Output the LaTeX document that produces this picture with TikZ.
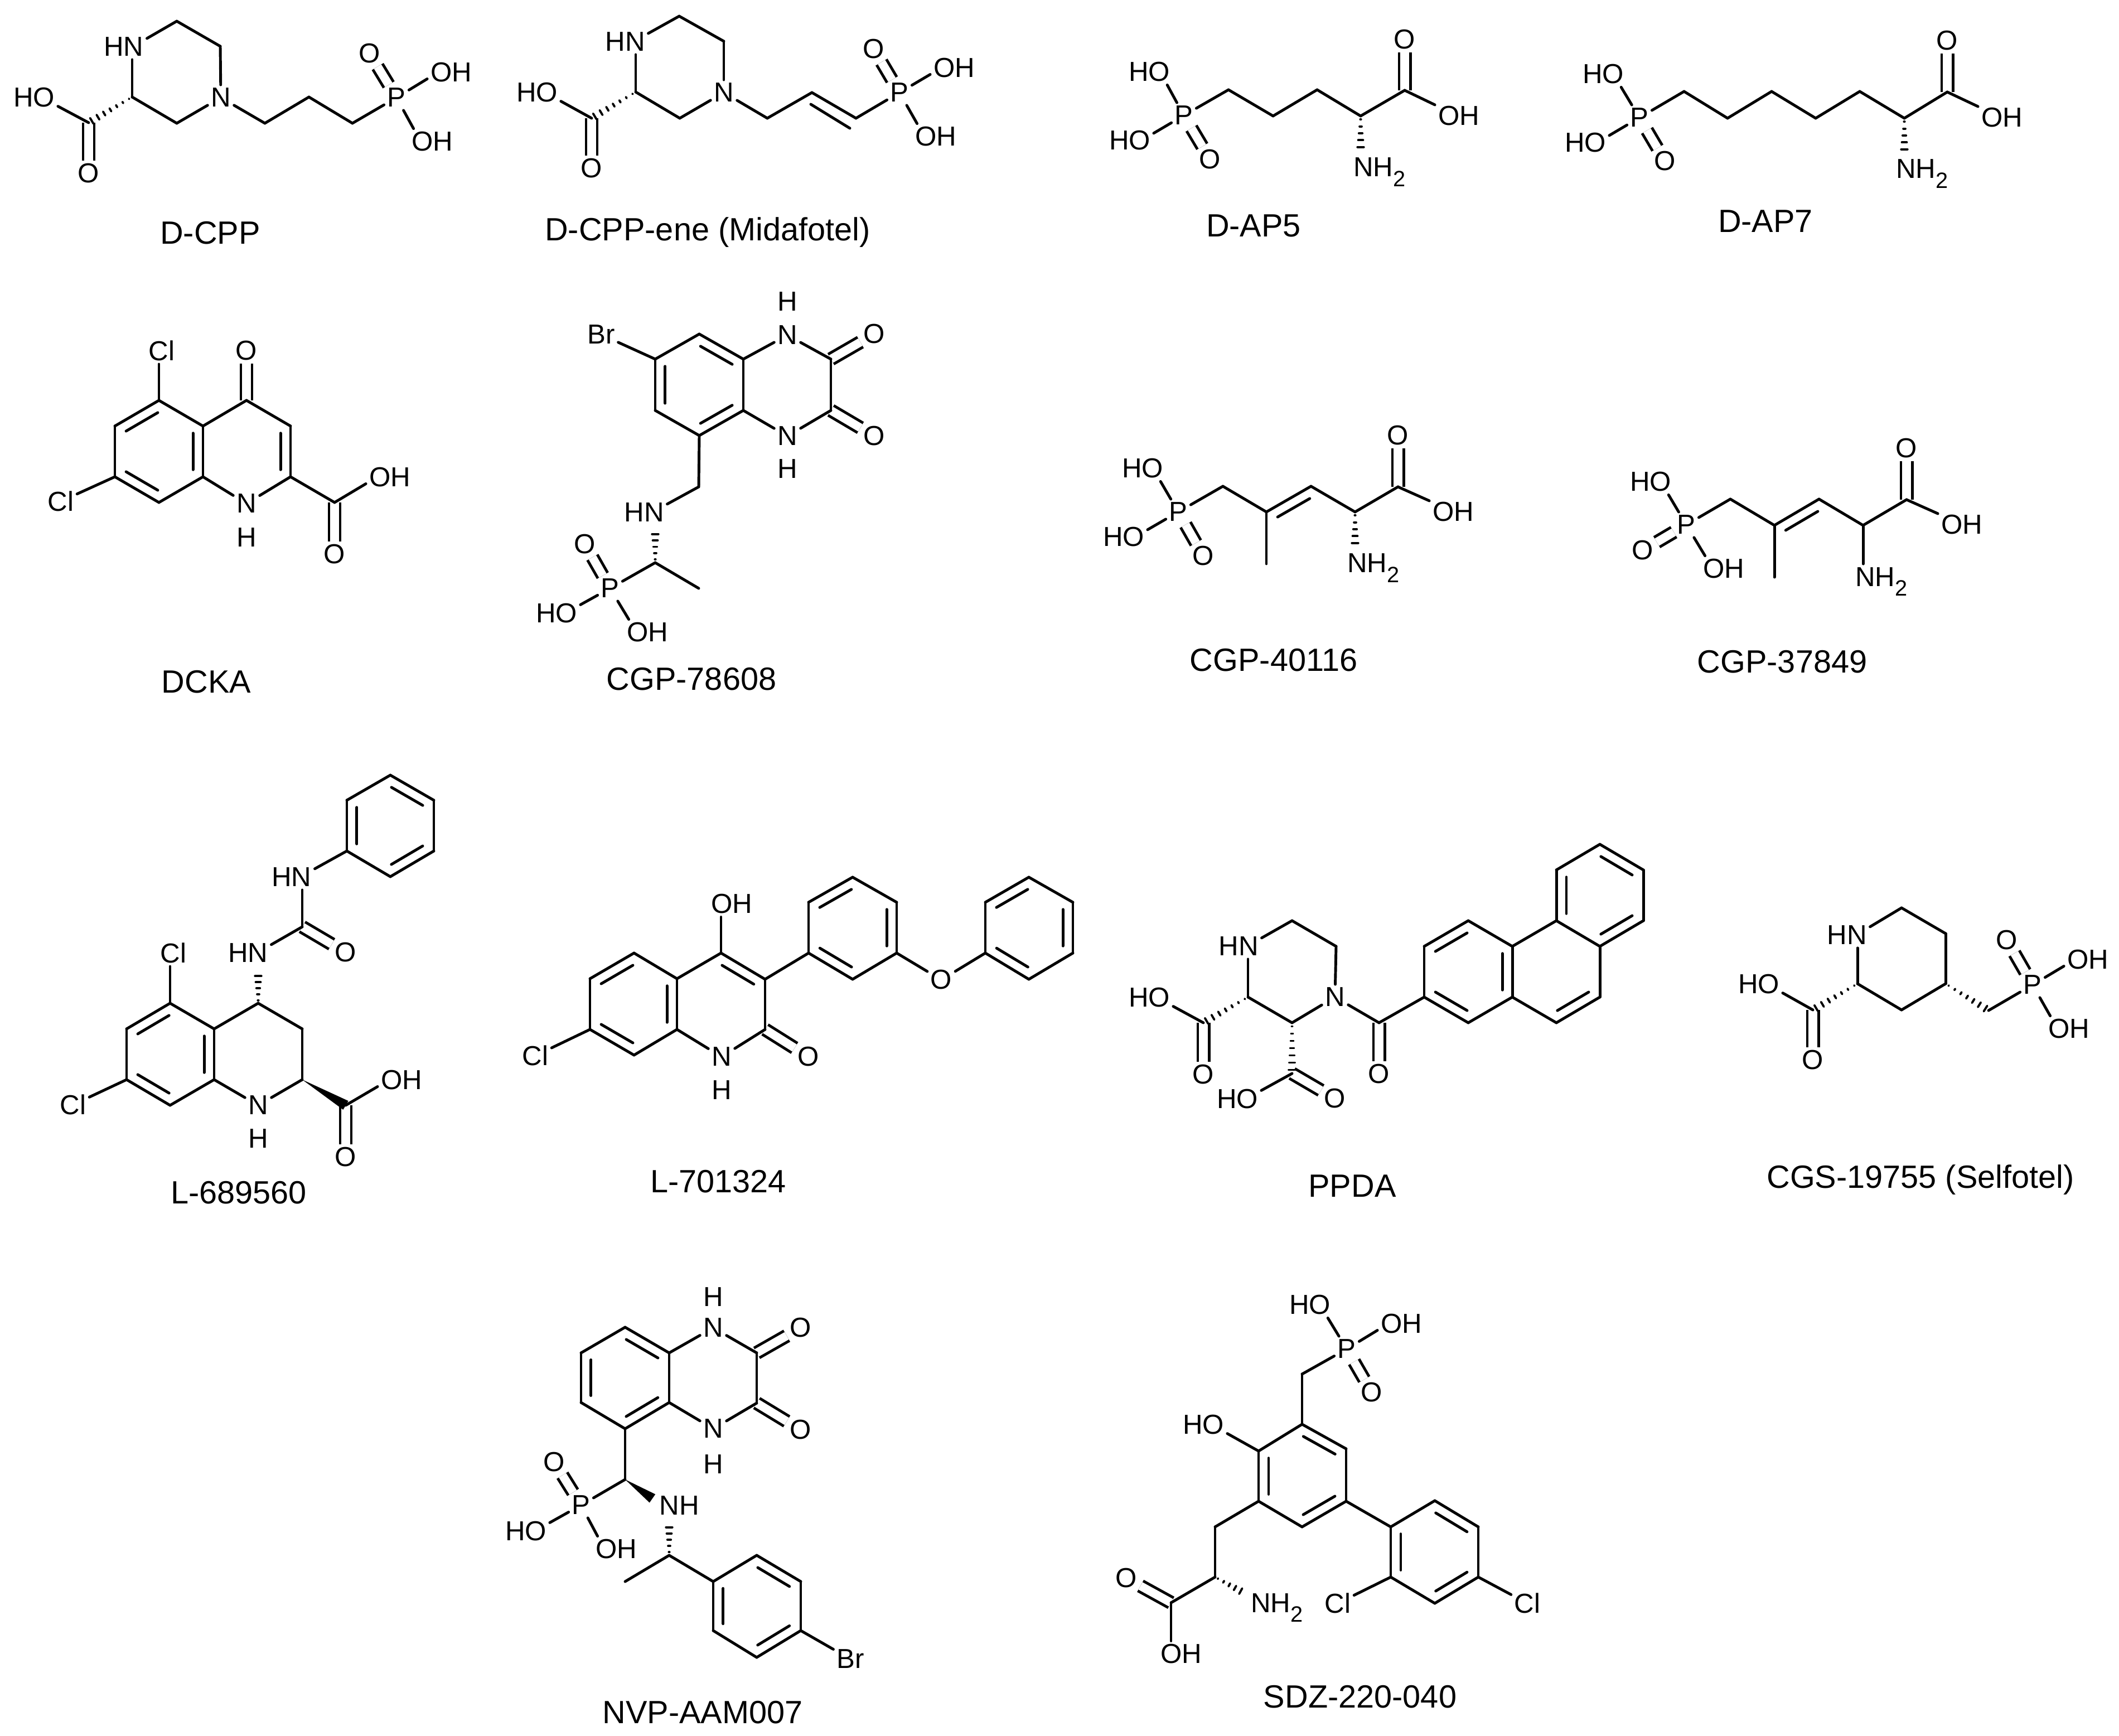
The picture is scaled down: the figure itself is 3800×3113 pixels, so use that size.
\documentclass[tikz,border=0pt]{standalone}
\usepackage{fontspec}
\setmainfont{Liberation Sans}
\usetikzlibrary{calc}
\newcommand{\atomfont}{\fontsize{14}{14}\selectfont}
\newcommand{\namefont}{\fontsize{16.4}{16.4}\selectfont}
\newcommand{\nhtwo}{NH\raisebox{-5pt}{\fontsize{11.3}{11.3}\selectfont 2}}
\newcommand{\hashbond}[3]{\foreach \k [evaluate=\k as \t using (\k-.5)/#3] in {1,...,#3}{\draw[hashdecorate] ($(#1)!\t!(#2)!\t*1.8pt!90:(#2)$) -- ($(#1)!\t!(#2)!\t*1.8pt!-90:(#2)$);}}
\newcommand{\wedgebond}[2]{\fill ($(#2)!2.6pt!90:(#1)$) -- (#1) -- ($(#2)!2.6pt!-90:(#1)$) -- cycle;}
\tikzset{
  vertexdecorate/.style={coordinate},
  atomdecorate/.style={inner sep=1.5pt,font=\atomfont},
  namedecorate/.style={anchor=base,font=\namefont},
  singlebond/.style={-,line width=1.4pt,line cap=round},
  doublebond/.style={-,line width=1.4pt,double,double distance=4.3pt},
  innerdouble/.style={-,line width=1.4pt,line cap=round,to path={-- (\tikztotarget) ($(\tikztostart)!.14!(\tikztotarget)!5.1pt!-90:(\tikztotarget)$) -- ($(\tikztotarget)!.14!(\tikztostart)!5.1pt!90:(\tikztostart)$)}},
  hashdecorate/.style={line width=1.1pt,line cap=round}
}
\begin{document}
\begin{tikzpicture}[x=.01cm,y=-.01cm]
\useasboundingbox (0,0) rectangle (3800,3113);
% D-CPP
\node (A1) at (222,84) [atomdecorate] {HN};
\node (A2) at (317,38) [vertexdecorate] {};
\node (A3) at (395,83) [vertexdecorate] {};
\node (A4) at (396,175) [atomdecorate] {N};
\node (A5) at (317,221) [vertexdecorate] {};
\node (A6) at (237,174) [vertexdecorate] {};
\node (A7) at (159,220) [vertexdecorate] {};
\node (A8) at (61,175) [atomdecorate] {HO};
\node (A9) at (159,311) [atomdecorate] {O};
\node (A10) at (475,221) [vertexdecorate] {};
\node (A11) at (554,174) [vertexdecorate] {};
\node (A12) at (632,221) [vertexdecorate] {};
\node (A13) at (711,175) [atomdecorate] {P};
\node (A14) at (663,96) [atomdecorate] {O};
\node (A15) at (809,130) [atomdecorate] {OH};
\node (A16) at (775,254) [atomdecorate] {OH};
\node (A17) at (377,438) [namedecorate] {D-CPP};
\path
(A7) edge[doublebond] (A9)
(A13) edge[doublebond] (A14)
(A1.20) edge[singlebond] (A2)
(A2) edge[singlebond] (A3)
(A3) edge[singlebond] (A4)
(A4) edge[singlebond] (A5)
(A5) edge[singlebond] (A6)
(A1.south -| A6) edge[singlebond] (A6)
(A8.-20) edge[singlebond] (A7)
(A4) edge[singlebond] (A10)
(A10) edge[singlebond] (A11)
(A11) edge[singlebond] (A12)
(A12) edge[singlebond] (A13)
(A13) edge[singlebond] (A15.195)
(A13) edge[singlebond] (A16.145);
\hashbond{A6}{A7}{7}
% D-CPP-ene
\node (B1) at (1121,75) [atomdecorate] {HN};
\node (B2) at (1218,29) [vertexdecorate] {};
\node (B3) at (1298,74) [vertexdecorate] {};
\node (B4) at (1298,166) [atomdecorate] {N};
\node (B5) at (1219,212) [vertexdecorate] {};
\node (B6) at (1140,165) [vertexdecorate] {};
\node (B7) at (1061,212) [vertexdecorate] {};
\node (B8) at (963,166) [atomdecorate] {HO};
\node (B9) at (1061,302) [atomdecorate] {O};
\node (B10) at (1376,212) [vertexdecorate] {};
\node (B11) at (1456,166) [vertexdecorate] {};
\node (B12) at (1535,212) [vertexdecorate] {};
\node (B13) at (1613,166) [atomdecorate] {P};
\node (B14) at (1567,88) [atomdecorate] {O};
\node (B15) at (1711,122) [atomdecorate] {OH};
\node (B16) at (1678,245) [atomdecorate] {OH};
\node (B17) at (1269,432) [namedecorate] {D-CPP-ene (Midafotel)};
\node (B18) at (1454,187) [vertexdecorate] {};
\node (B19) at (1524,230) [vertexdecorate] {};
\path
(B7) edge[doublebond] (B9)
(B13) edge[doublebond] (B14)
(B1.20) edge[singlebond] (B2)
(B2) edge[singlebond] (B3)
(B3) edge[singlebond] (B4)
(B4) edge[singlebond] (B5)
(B5) edge[singlebond] (B6)
(B1.south -| B6) edge[singlebond] (B6)
(B8.-20) edge[singlebond] (B7)
(B4) edge[singlebond] (B10)
(B10) edge[singlebond] (B11)
(B11) edge[singlebond] (B12)
(B18) edge[singlebond] (B19)
(B12) edge[singlebond] (B13)
(B13) edge[singlebond] (B15.195)
(B13) edge[singlebond] (B16.145);
\hashbond{B6}{B7}{7}
% D-AP5
\node (C1) at (2061,129) [atomdecorate] {HO};
\node (C2) at (2123,207) [atomdecorate] {P};
\node (C3) at (2026,252) [atomdecorate] {HO};
\node (C4) at (2170,286) [atomdecorate] {O};
\node (C5) at (2203,161) [vertexdecorate] {};
\node (C6) at (2283,208) [vertexdecorate] {};
\node (C7) at (2362,161) [vertexdecorate] {};
\node (C8) at (2440,208) [vertexdecorate] {};
\node (C9) at (2519,162) [vertexdecorate] {};
\node (C10) at (2519,71) [atomdecorate] {O};
\node (C11) at (2616,208) [atomdecorate] {OH};
\node (C12) at (2421,317) [atomdecorate,anchor=base west] {\nhtwo};
\node (C13) at (2440,270) [vertexdecorate] {};
\node (C14) at (2248,425) [namedecorate] {D-AP5};
\path
(C2) edge[doublebond] (C4)
(C9) edge[doublebond] (C10)
(C1.-36) edge[singlebond] (C2)
(C3.17) edge[singlebond] (C2)
(C2) edge[singlebond] (C5)
(C5) edge[singlebond] (C6)
(C6) edge[singlebond] (C7)
(C7) edge[singlebond] (C8)
(C8) edge[singlebond] (C9)
(C9) edge[singlebond] (C11.155);
\hashbond{C8}{C13}{5}
% D-AP7
\node (D1) at (2875,133) [atomdecorate] {HO};
\node (D2) at (2940,211) [atomdecorate] {P};
\node (D3) at (2843,256) [atomdecorate] {HO};
\node (D4) at (2986,289) [atomdecorate] {O};
\node (D5) at (3020,164) [vertexdecorate] {};
\node (D6) at (3098,212) [vertexdecorate] {};
\node (D7) at (3177,164) [vertexdecorate] {};
\node (D8) at (3256,212) [vertexdecorate] {};
\node (D9) at (3335,164) [vertexdecorate] {};
\node (D10) at (3415,212) [vertexdecorate] {};
\node (D11) at (3492,165) [vertexdecorate] {};
\node (D12) at (3492,73) [atomdecorate] {O};
\node (D13) at (3590,211) [atomdecorate] {OH};
\node (D14) at (3394,320) [atomdecorate,anchor=base west] {\nhtwo};
\node (D15) at (3415,274) [vertexdecorate] {};
\node (D16) at (3166,417) [namedecorate] {D-AP7};
\path
(D2) edge[doublebond] (D4)
(D11) edge[doublebond] (D12)
(D1.-36) edge[singlebond] (D2)
(D3.17) edge[singlebond] (D2)
(D2) edge[singlebond] (D5)
(D5) edge[singlebond] (D6)
(D6) edge[singlebond] (D7)
(D7) edge[singlebond] (D8)
(D8) edge[singlebond] (D9)
(D9) edge[singlebond] (D10)
(D10) edge[singlebond] (D11)
(D11) edge[singlebond] (D13.155);
\hashbond{D10}{D15}{5}
% DCKA
\node (E1) at (285,718) [vertexdecorate] {};
\node (E2) at (364,764) [vertexdecorate] {};
\node (E3) at (364,855) [vertexdecorate] {};
\node (E4) at (285,901) [vertexdecorate] {};
\node (E5) at (206,855) [vertexdecorate] {};
\node (E6) at (206,764) [vertexdecorate] {};
\node (E7) at (442,718) [vertexdecorate] {};
\node (E8) at (521,764) [vertexdecorate] {};
\node (E9) at (521,855) [vertexdecorate] {};
\node (E10) at (442,903) [atomdecorate] {N};
\node (E11) at (442,964) [atomdecorate] {H};
\node (E12) at (290,629) [atomdecorate] {Cl};
\node (E13) at (442,629) [atomdecorate] {O};
\node (E14) at (109,899) [atomdecorate] {Cl};
\node (E15) at (600,901) [vertexdecorate] {};
\node (E16) at (699,856) [atomdecorate] {OH};
\node (E17) at (600,994) [atomdecorate] {O};
\node (E18) at (370,1242) [namedecorate] {DCKA};
\path
(E7) edge[doublebond] (E13)
(E15) edge[doublebond] (E17)
(E1) edge[singlebond] (E2)
(E2) edge[innerdouble] (E3)
(E3) edge[singlebond] (E4)
(E4) edge[innerdouble] (E5)
(E5) edge[singlebond] (E6)
(E6) edge[innerdouble] (E1)
(E2) edge[singlebond] (E7)
(E7) edge[singlebond] (E8)
(E8) edge[innerdouble] (E9)
(E9) edge[singlebond] (E10)
(E10) edge[singlebond] (E3)
(E1) edge[singlebond] (E12.south -| E1)
(E5) edge[singlebond] (E14)
(E9) edge[singlebond] (E15)
(E15) edge[singlebond] (E16.195);
% CGP-78608
\node (F1) at (1254,599) [vertexdecorate] {};
\node (F2) at (1333,644) [vertexdecorate] {};
\node (F3) at (1333,736) [vertexdecorate] {};
\node (F4) at (1254,781) [vertexdecorate] {};
\node (F5) at (1175,736) [vertexdecorate] {};
\node (F6) at (1175,644) [vertexdecorate] {};
\node (F7) at (1412,601) [atomdecorate] {N};
\node (F8) at (1412,541) [atomdecorate] {H};
\node (F9) at (1490,644) [vertexdecorate] {};
\node (F10) at (1490,736) [vertexdecorate] {};
\node (F11) at (1412,782) [atomdecorate] {N};
\node (F12) at (1412,841) [atomdecorate] {H};
\node (F13) at (1568,599) [atomdecorate] {O};
\node (F14) at (1568,782) [atomdecorate] {O};
\node (F15) at (1078,600) [atomdecorate] {Br};
\node (F16) at (1253,873) [vertexdecorate] {};
\node (F17) at (1155,919) [atomdecorate] {HN};
\node (F18) at (1175,1009) [vertexdecorate] {};
\node (F19) at (1175,952) [vertexdecorate] {};
\node (F20) at (1253,1055) [vertexdecorate] {};
\node (F21) at (1094,1055) [atomdecorate] {P};
\node (F22) at (1049,976) [atomdecorate] {O};
\node (F23) at (998,1100) [atomdecorate] {HO};
\node (F24) at (1161,1134) [atomdecorate] {OH};
\node (F25) at (1240,1237) [namedecorate] {CGP-78608};
\path
(F9) edge[doublebond] (F13)
(F10) edge[doublebond] (F14)
(F21) edge[doublebond] (F22)
(F1) edge[innerdouble] (F2)
(F2) edge[singlebond] (F3)
(F3) edge[innerdouble] (F4)
(F4) edge[singlebond] (F5)
(F5) edge[innerdouble] (F6)
(F6) edge[singlebond] (F1)
(F2) edge[singlebond] (F7)
(F7) edge[singlebond] (F9)
(F9) edge[singlebond] (F10)
(F10) edge[singlebond] (F11)
(F11) edge[singlebond] (F3)
(F6) edge[singlebond] (F15)
(F4) edge[singlebond] (F16)
(F16) edge[singlebond] (F17.20)
(F18) edge[singlebond] (F20)
(F18) edge[singlebond] (F21)
(F23.20) edge[singlebond] (F21)
(F21) edge[singlebond] (F24.145);
\hashbond{F18}{F19}{5}
% CGP-40116
\node (H1) at (2049,840) [atomdecorate] {HO};
\node (H2) at (2113,918) [atomdecorate] {P};
\node (H3) at (2015,963) [atomdecorate] {HO};
\node (H4) at (2158,997) [atomdecorate] {O};
\node (H5) at (2193,872) [vertexdecorate] {};
\node (H6) at (2271,918) [vertexdecorate] {};
\node (H7) at (2351,872) [vertexdecorate] {};
\node (H8) at (2430,918) [vertexdecorate] {};
\node (H9) at (2507,873) [vertexdecorate] {};
\node (H10) at (2507,781) [atomdecorate] {O};
\node (H11) at (2606,918) [atomdecorate] {OH};
\node (H12) at (2271,1011) [vertexdecorate] {};
\node (H13) at (2410,1027) [atomdecorate,anchor=base west] {\nhtwo};
\node (H14) at (2430,980) [vertexdecorate] {};
\node (H15) at (2284,1203) [namedecorate] {CGP-40116};
\path
(H2) edge[doublebond] (H4)
(H9) edge[doublebond] (H10)
(H1.-36) edge[singlebond] (H2)
(H3.17) edge[singlebond] (H2)
(H2) edge[singlebond] (H5)
(H5) edge[singlebond] (H6)
(H6) edge[innerdouble] (H7)
(H7) edge[singlebond] (H8)
(H8) edge[singlebond] (H9)
(H9) edge[singlebond] (H11.155)
(H6) edge[singlebond] (H12);
\hashbond{H8}{H14}{5}
% CGP-37849
\node (I1) at (2960,864) [atomdecorate] {HO};
\node (I2) at (3024,941) [atomdecorate] {P};
\node (I3) at (2946,987) [atomdecorate] {O};
\node (I4) at (3091,1020) [atomdecorate] {OH};
\node (I5) at (3103,895) [vertexdecorate] {};
\node (I6) at (3182,942) [vertexdecorate] {};
\node (I7) at (3262,895) [vertexdecorate] {};
\node (I8) at (3341,942) [vertexdecorate] {};
\node (I9) at (3419,896) [vertexdecorate] {};
\node (I10) at (3419,804) [atomdecorate] {O};
\node (I11) at (3518,941) [atomdecorate] {OH};
\node (I12) at (3182,1035) [vertexdecorate] {};
\node (I13) at (3321,1051) [atomdecorate,anchor=base west] {\nhtwo};
\node (I14) at (3196,1206) [namedecorate] {CGP-37849};
\path
(I2) edge[doublebond] (I3)
(I9) edge[doublebond] (I10)
(I1.-36) edge[singlebond] (I2)
(I2) edge[singlebond] (I4.145)
(I2) edge[singlebond] (I5)
(I5) edge[singlebond] (I6)
(I6) edge[innerdouble] (I7)
(I7) edge[singlebond] (I8)
(I8) edge[singlebond] (I9)
(I9) edge[singlebond] (I11.155)
(I6) edge[singlebond] (I12)
(I8) edge[singlebond] (I13.north -| I8);
% L-689560
\node (J1) at (700,1390) [vertexdecorate] {};
\node (J2) at (778,1435) [vertexdecorate] {};
\node (J3) at (778,1526) [vertexdecorate] {};
\node (J4) at (700,1572) [vertexdecorate] {};
\node (J5) at (622,1526) [vertexdecorate] {};
\node (J6) at (622,1435) [vertexdecorate] {};
\node (J7) at (523,1573) [atomdecorate] {HN};
\node (J8) at (542,1662) [vertexdecorate] {};
\node (J9) at (620,1708) [atomdecorate] {O};
\node (J10) at (445,1709) [atomdecorate] {HN};
\node (J11) at (463,1799) [vertexdecorate] {};
\node (J12) at (463,1745) [vertexdecorate] {};
\node (J13) at (542,1845) [vertexdecorate] {};
\node (J14) at (542,1936) [vertexdecorate] {};
\node (J15) at (463,1982) [atomdecorate] {N};
\node (J16) at (463,2042) [atomdecorate] {H};
\node (J17) at (384,1936) [vertexdecorate] {};
\node (J18) at (384,1845) [vertexdecorate] {};
\node (J19) at (305,1799) [vertexdecorate] {};
\node (J20) at (227,1845) [vertexdecorate] {};
\node (J21) at (227,1936) [vertexdecorate] {};
\node (J22) at (305,1982) [vertexdecorate] {};
\node (J23) at (311,1709) [atomdecorate] {Cl};
\node (J24) at (131,1981) [atomdecorate] {Cl};
\node (J25) at (620,1982) [vertexdecorate] {};
\node (J26) at (720,1937) [atomdecorate] {OH};
\node (J27) at (620,2075) [atomdecorate] {O};
\node (J28) at (428,2158) [namedecorate] {L-689560};
\path
(J8) edge[doublebond] (J9)
(J25) edge[doublebond] (J27)
(J1) edge[innerdouble] (J2)
(J2) edge[singlebond] (J3)
(J3) edge[innerdouble] (J4)
(J4) edge[singlebond] (J5)
(J5) edge[innerdouble] (J6)
(J6) edge[singlebond] (J1)
(J7.20) edge[singlebond] (J5)
(J7.south -| J8) edge[singlebond] (J8)
(J10.20) edge[singlebond] (J8)
(J11) edge[singlebond] (J13)
(J13) edge[singlebond] (J14)
(J14) edge[singlebond] (J15)
(J15) edge[singlebond] (J17)
(J18) edge[singlebond] (J11)
(J19) edge[singlebond] (J18)
(J18) edge[innerdouble] (J17)
(J17) edge[singlebond] (J22)
(J22) edge[innerdouble] (J21)
(J21) edge[singlebond] (J20)
(J20) edge[innerdouble] (J19)
(J19) edge[singlebond] (J23.south -| J19)
(J21) edge[singlebond] (J24)
(J25) edge[singlebond] (J26.195);
\hashbond{J11}{J12}{5}
\wedgebond{J14}{J25}
% L-701324
\node (K1) at (960,1893) [atomdecorate] {Cl};
\node (K2) at (1058,1846) [vertexdecorate] {};
\node (K3) at (1058,1755) [vertexdecorate] {};
\node (K4) at (1137,1709) [vertexdecorate] {};
\node (K5) at (1214,1755) [vertexdecorate] {};
\node (K6) at (1214,1846) [vertexdecorate] {};
\node (K7) at (1137,1892) [vertexdecorate] {};
\node (K8) at (1294,1895) [atomdecorate] {N};
\node (K9) at (1294,1955) [atomdecorate] {H};
\node (K10) at (1372,1846) [vertexdecorate] {};
\node (K11) at (1372,1756) [vertexdecorate] {};
\node (K12) at (1293,1709) [vertexdecorate] {};
\node (K13) at (1450,1895) [atomdecorate] {O};
\node (K14) at (1312,1621) [atomdecorate] {OH};
\node (K15) at (1450,1709) [vertexdecorate] {};
\node (K16) at (1450,1618) [vertexdecorate] {};
\node (K17) at (1529,1573) [vertexdecorate] {};
\node (K18) at (1608,1618) [vertexdecorate] {};
\node (K19) at (1608,1709) [vertexdecorate] {};
\node (K20) at (1529,1756) [vertexdecorate] {};
\node (K21) at (1688,1757) [atomdecorate] {O};
\node (K22) at (1767,1709) [vertexdecorate] {};
\node (K23) at (1767,1618) [vertexdecorate] {};
\node (K24) at (1845,1573) [vertexdecorate] {};
\node (K25) at (1924,1618) [vertexdecorate] {};
\node (K26) at (1924,1709) [vertexdecorate] {};
\node (K27) at (1845,1756) [vertexdecorate] {};
\node (K28) at (1288,2138) [namedecorate] {L-701324};
\path
(K10) edge[doublebond] (K13)
(K1) edge[singlebond] (K2)
(K2) edge[singlebond] (K3)
(K3) edge[innerdouble] (K4)
(K4) edge[singlebond] (K5)
(K5) edge[innerdouble] (K6)
(K6) edge[singlebond] (K7)
(K7) edge[innerdouble] (K2)
(K6) edge[singlebond] (K8)
(K8) edge[singlebond] (K10)
(K10) edge[singlebond] (K11)
(K12) edge[innerdouble] (K11)
(K5) edge[singlebond] (K12)
(K12) edge[singlebond] (K14.south -| K12)
(K11) edge[singlebond] (K15)
(K15) edge[singlebond] (K16)
(K16) edge[innerdouble] (K17)
(K17) edge[singlebond] (K18)
(K18) edge[innerdouble] (K19)
(K19) edge[singlebond] (K20)
(K20) edge[innerdouble] (K15)
(K19) edge[singlebond] (K21)
(K21) edge[singlebond] (K22)
(K22) edge[singlebond] (K23)
(K23) edge[innerdouble] (K24)
(K24) edge[singlebond] (K25)
(K25) edge[innerdouble] (K26)
(K26) edge[singlebond] (K27)
(K27) edge[innerdouble] (K22);
% PPDA
\node (L1) at (2221,1697) [atomdecorate] {HN};
\node (L2) at (2317,1651) [vertexdecorate] {};
\node (L3) at (2396,1697) [vertexdecorate] {};
\node (L4) at (2394,1788) [atomdecorate] {N};
\node (L5) at (2317,1834) [vertexdecorate] {};
\node (L6) at (2238,1788) [vertexdecorate] {};
\node (L7) at (2158,1834) [vertexdecorate] {};
\node (L8) at (2061,1789) [atomdecorate] {HO};
\node (L9) at (2158,1927) [atomdecorate] {O};
\node (L10) at (2317,1925) [vertexdecorate] {};
\node (L11) at (2219,1971) [atomdecorate] {HO};
\node (L12) at (2394,1970) [atomdecorate] {O};
\node (L13) at (2473,1834) [vertexdecorate] {};
\node (L14) at (2473,1926) [atomdecorate] {O};
\node (L15) at (2554,1788) [vertexdecorate] {};
\node (L16) at (2554,1697) [vertexdecorate] {};
\node (L17) at (2633,1651) [vertexdecorate] {};
\node (L18) at (2712,1697) [vertexdecorate] {};
\node (L19) at (2712,1788) [vertexdecorate] {};
\node (L20) at (2633,1834) [vertexdecorate] {};
\node (L21) at (2791,1651) [vertexdecorate] {};
\node (L22) at (2869,1697) [vertexdecorate] {};
\node (L23) at (2869,1788) [vertexdecorate] {};
\node (L24) at (2791,1834) [vertexdecorate] {};
\node (L25) at (2791,1560) [vertexdecorate] {};
\node (L26) at (2869,1514) [vertexdecorate] {};
\node (L27) at (2947,1560) [vertexdecorate] {};
\node (L28) at (2947,1651) [vertexdecorate] {};
\node (L29) at (2425,2146) [namedecorate] {PPDA};
\path
(L7) edge[doublebond] (L9)
(L10) edge[doublebond] (L12)
(L13) edge[doublebond] (L14)
(L1.20) edge[singlebond] (L2)
(L2) edge[singlebond] (L3)
(L3) edge[singlebond] (L4)
(L4) edge[singlebond] (L5)
(L5) edge[singlebond] (L6)
(L1.south -| L6) edge[singlebond] (L6)
(L8.-20) edge[singlebond] (L7)
(L11.20) edge[singlebond] (L10)
(L4) edge[singlebond] (L13)
(L13) edge[singlebond] (L15)
(L15) edge[singlebond] (L16)
(L16) edge[innerdouble] (L17)
(L17) edge[singlebond] (L18)
(L18) edge[innerdouble] (L19)
(L19) edge[singlebond] (L20)
(L20) edge[innerdouble] (L15)
(L18) edge[singlebond] (L21)
(L21) edge[singlebond] (L22)
(L22) edge[singlebond] (L23)
(L23) edge[innerdouble] (L24)
(L24) edge[singlebond] (L19)
(L21) edge[innerdouble] (L25)
(L25) edge[singlebond] (L26)
(L26) edge[innerdouble] (L27)
(L27) edge[singlebond] (L28)
(L28) edge[innerdouble] (L22);
\hashbond{L6}{L7}{7}
\hashbond{L5}{L10}{7}
% CGS-19755 (Selfotel)
\node (M1) at (3312,1677) [atomdecorate] {HN};
\node (M2) at (3410,1628) [vertexdecorate] {};
\node (M3) at (3489,1674) [vertexdecorate] {};
\node (M4) at (3489,1764) [vertexdecorate] {};
\node (M5) at (3410,1811) [vertexdecorate] {};
\node (M6) at (3331,1764) [vertexdecorate] {};
\node (M7) at (3251,1811) [vertexdecorate] {};
\node (M8) at (3154,1765) [atomdecorate] {HO};
\node (M9) at (3251,1901) [atomdecorate] {O};
\node (M10) at (3566,1812) [vertexdecorate] {};
\node (M11) at (3645,1766) [atomdecorate] {P};
\node (M12) at (3599,1686) [atomdecorate] {O};
\node (M13) at (3744,1721) [atomdecorate] {OH};
\node (M14) at (3710,1845) [atomdecorate] {OH};
\node (M15) at (3444,2130) [namedecorate] {CGS-19755 (Selfotel)};
\path
(M7) edge[doublebond] (M9)
(M11) edge[doublebond] (M12)
(M1.20) edge[singlebond] (M2)
(M2) edge[singlebond] (M3)
(M3) edge[singlebond] (M4)
(M4) edge[singlebond] (M5)
(M5) edge[singlebond] (M6)
(M1.south -| M6) edge[singlebond] (M6)
(M8.-20) edge[singlebond] (M7)
(M10) edge[singlebond] (M11)
(M11) edge[singlebond] (M13.195)
(M11) edge[singlebond] (M14.145);
\hashbond{M6}{M7}{7}
\hashbond{M4}{M10}{7}
% NVP-AAM007
\node (N1) at (1279,2381) [atomdecorate] {N};
\node (N2) at (1279,2326) [atomdecorate] {H};
\node (N3) at (1121,2380) [vertexdecorate] {};
\node (N4) at (1200,2426) [vertexdecorate] {};
\node (N5) at (1200,2515) [vertexdecorate] {};
\node (N6) at (1121,2562) [vertexdecorate] {};
\node (N7) at (1042,2515) [vertexdecorate] {};
\node (N8) at (1042,2426) [vertexdecorate] {};
\node (N9) at (1279,2562) [atomdecorate] {N};
\node (N10) at (1279,2626) [atomdecorate] {H};
\node (N11) at (1357,2426) [vertexdecorate] {};
\node (N12) at (1357,2516) [vertexdecorate] {};
\node (N13) at (1436,2381) [atomdecorate] {O};
\node (N14) at (1436,2564) [atomdecorate] {O};
\node (N15) at (1121,2653) [vertexdecorate] {};
\node (N16) at (1042,2699) [atomdecorate] {P};
\node (N17) at (994,2622) [atomdecorate] {O};
\node (N18) at (943,2746) [atomdecorate] {HO};
\node (N19) at (1105,2778) [atomdecorate] {OH};
\node (N20) at (1218,2700) [atomdecorate] {NH};
\node (N21) at (1170,2687) [vertexdecorate] {};
\node (N22) at (1200,2789) [vertexdecorate] {};
\node (N23) at (1200,2733) [vertexdecorate] {};
\node (N24) at (1121,2836) [vertexdecorate] {};
\node (N25) at (1279,2836) [vertexdecorate] {};
\node (N26) at (1357,2789) [vertexdecorate] {};
\node (N27) at (1436,2836) [vertexdecorate] {};
\node (N28) at (1436,2924) [vertexdecorate] {};
\node (N29) at (1357,2972) [vertexdecorate] {};
\node (N30) at (1279,2924) [vertexdecorate] {};
\node (N31) at (1525,2975) [atomdecorate] {Br};
\node (N32) at (1260,3090) [namedecorate] {NVP-AAM007};
\path
(N11) edge[doublebond] (N13)
(N12) edge[doublebond] (N14)
(N16) edge[doublebond] (N17)
(N3) edge[innerdouble] (N4)
(N4) edge[singlebond] (N5)
(N5) edge[innerdouble] (N6)
(N6) edge[singlebond] (N7)
(N7) edge[innerdouble] (N8)
(N8) edge[singlebond] (N3)
(N4) edge[singlebond] (N1)
(N1) edge[singlebond] (N11)
(N11) edge[singlebond] (N12)
(N12) edge[singlebond] (N9)
(N9) edge[singlebond] (N5)
(N6) edge[singlebond] (N15)
(N15) edge[singlebond] (N16)
(N18.20) edge[singlebond] (N16)
(N16) edge[singlebond] (N19.145)
(N22) edge[singlebond] (N24)
(N22) edge[singlebond] (N25)
(N25) edge[singlebond] (N26)
(N26) edge[innerdouble] (N27)
(N27) edge[singlebond] (N28)
(N28) edge[innerdouble] (N29)
(N29) edge[singlebond] (N30)
(N30) edge[innerdouble] (N25)
(N28) edge[singlebond] (N31);
\wedgebond{N15}{N21}
\hashbond{N22}{N23}{5}
% SDZ-220-040
\node (P1) at (2349,2340) [atomdecorate] {HO};
\node (P2) at (2513,2374) [atomdecorate] {OH};
\node (P3) at (2415,2419) [atomdecorate] {P};
\node (P4) at (2460,2497) [atomdecorate] {O};
\node (P5) at (2335,2464) [vertexdecorate] {};
\node (P6) at (2335,2554) [vertexdecorate] {};
\node (P7) at (2414,2598) [vertexdecorate] {};
\node (P8) at (2414,2692) [vertexdecorate] {};
\node (P9) at (2335,2738) [vertexdecorate] {};
\node (P10) at (2257,2692) [vertexdecorate] {};
\node (P11) at (2257,2602) [vertexdecorate] {};
\node (P12) at (2158,2555) [atomdecorate] {HO};
\node (P13) at (2179,2738) [vertexdecorate] {};
\node (P14) at (2179,2828) [vertexdecorate] {};
\node (P15) at (2100,2874) [vertexdecorate] {};
\node (P16) at (2020,2830) [atomdecorate] {O};
\node (P17) at (2118,2966) [atomdecorate] {OH};
\node (P18) at (2237,2891) [atomdecorate,anchor=base west] {\nhtwo};
\node (P19) at (2230,2856) [vertexdecorate] {};
\node (P20) at (2494,2738) [vertexdecorate] {};
\node (P21) at (2573,2691) [vertexdecorate] {};
\node (P22) at (2651,2738) [vertexdecorate] {};
\node (P23) at (2651,2828) [vertexdecorate] {};
\node (P24) at (2573,2875) [vertexdecorate] {};
\node (P25) at (2494,2828) [vertexdecorate] {};
\node (P26) at (2399,2875) [atomdecorate] {Cl};
\node (P27) at (2739,2875) [atomdecorate] {Cl};
\node (P28) at (2439,3062) [namedecorate] {SDZ-220-040};
\path
(P3) edge[doublebond] (P4)
(P15) edge[doublebond] (P16)
(P1.-36) edge[singlebond] (P3)
(P3) edge[singlebond] (P2.195)
(P3) edge[singlebond] (P5)
(P5) edge[singlebond] (P6)
(P6) edge[innerdouble] (P7)
(P7) edge[singlebond] (P8)
(P8) edge[innerdouble] (P9)
(P9) edge[singlebond] (P10)
(P10) edge[innerdouble] (P11)
(P11) edge[singlebond] (P6)
(P12.-20) edge[singlebond] (P11)
(P10) edge[singlebond] (P13)
(P13) edge[singlebond] (P14)
(P14) edge[singlebond] (P15)
(P15) edge[singlebond] (P17.north -| P15)
(P8) edge[singlebond] (P20)
(P20) edge[singlebond] (P21)
(P21) edge[innerdouble] (P22)
(P22) edge[singlebond] (P23)
(P23) edge[innerdouble] (P24)
(P24) edge[singlebond] (P25)
(P25) edge[innerdouble] (P20)
(P25) edge[singlebond] (P26)
(P23) edge[singlebond] (P27);
\hashbond{P14}{P19}{5}
\end{tikzpicture}
\end{document}
